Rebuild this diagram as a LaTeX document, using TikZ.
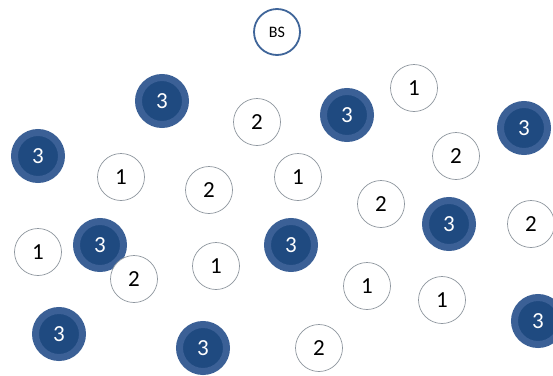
\documentclass[tikz,border=0pt]{standalone}
\usepackage{fontspec}
\setmainfont{Carlito}
\usepackage{xcolor}
\usepackage{tikz}
\definecolor{ringx}{HTML}{3B6096}
\definecolor{deepx}{HTML}{1F4A80}
\definecolor{edgex}{HTML}{8E969E}
\definecolor{bsx}{HTML}{3F6599}
\tikzset{
  bsnode/.style={circle,draw=bsx,line width=1.8pt,fill=white,minimum size=46pt,inner sep=0pt,font=\fontsize{16}{18}\selectfont},
  far/.style={circle,draw=ringx,line width=7pt,fill=deepx,minimum size=47pt,inner sep=0pt,text=white,font=\fontsize{23}{26}\selectfont},
  near/.style={circle,draw=edgex,line width=0.7pt,fill=white,minimum size=47pt,inner sep=0pt,font=\fontsize{23}{26}\selectfont}
}
\begin{document}
\begin{tikzpicture}[x=1pt,y=-1pt]
\useasboundingbox (0,0) rectangle (553,375);
\node[bsnode] (bs) at (277,32) {BS};
% tier 3
\foreach \n/\px/\py in {a/162/101,b/347/115,c/524/128,d/38/156,e/100/245,
  f/291/245,g/449/224,h/59/334,i/203/348,j/538/321}
  \node[far] (t3\n) at (\px,\py) {3};
% tier 2
\foreach \n/\px/\py in {a/257/122,b/456/156,c/209/190,d/381/204,e/531/224,
  f/134/279,g/319/348}
  \node[near] (t2\n) at (\px,\py) {2};
% tier 1
\foreach \n/\px/\py in {a/414/88,b/121/177,c/298/177,d/38/252,e/216/266,
  f/367/286,g/442/300}
  \node[near] (t1\n) at (\px,\py) {1};
\end{tikzpicture}
\end{document}
